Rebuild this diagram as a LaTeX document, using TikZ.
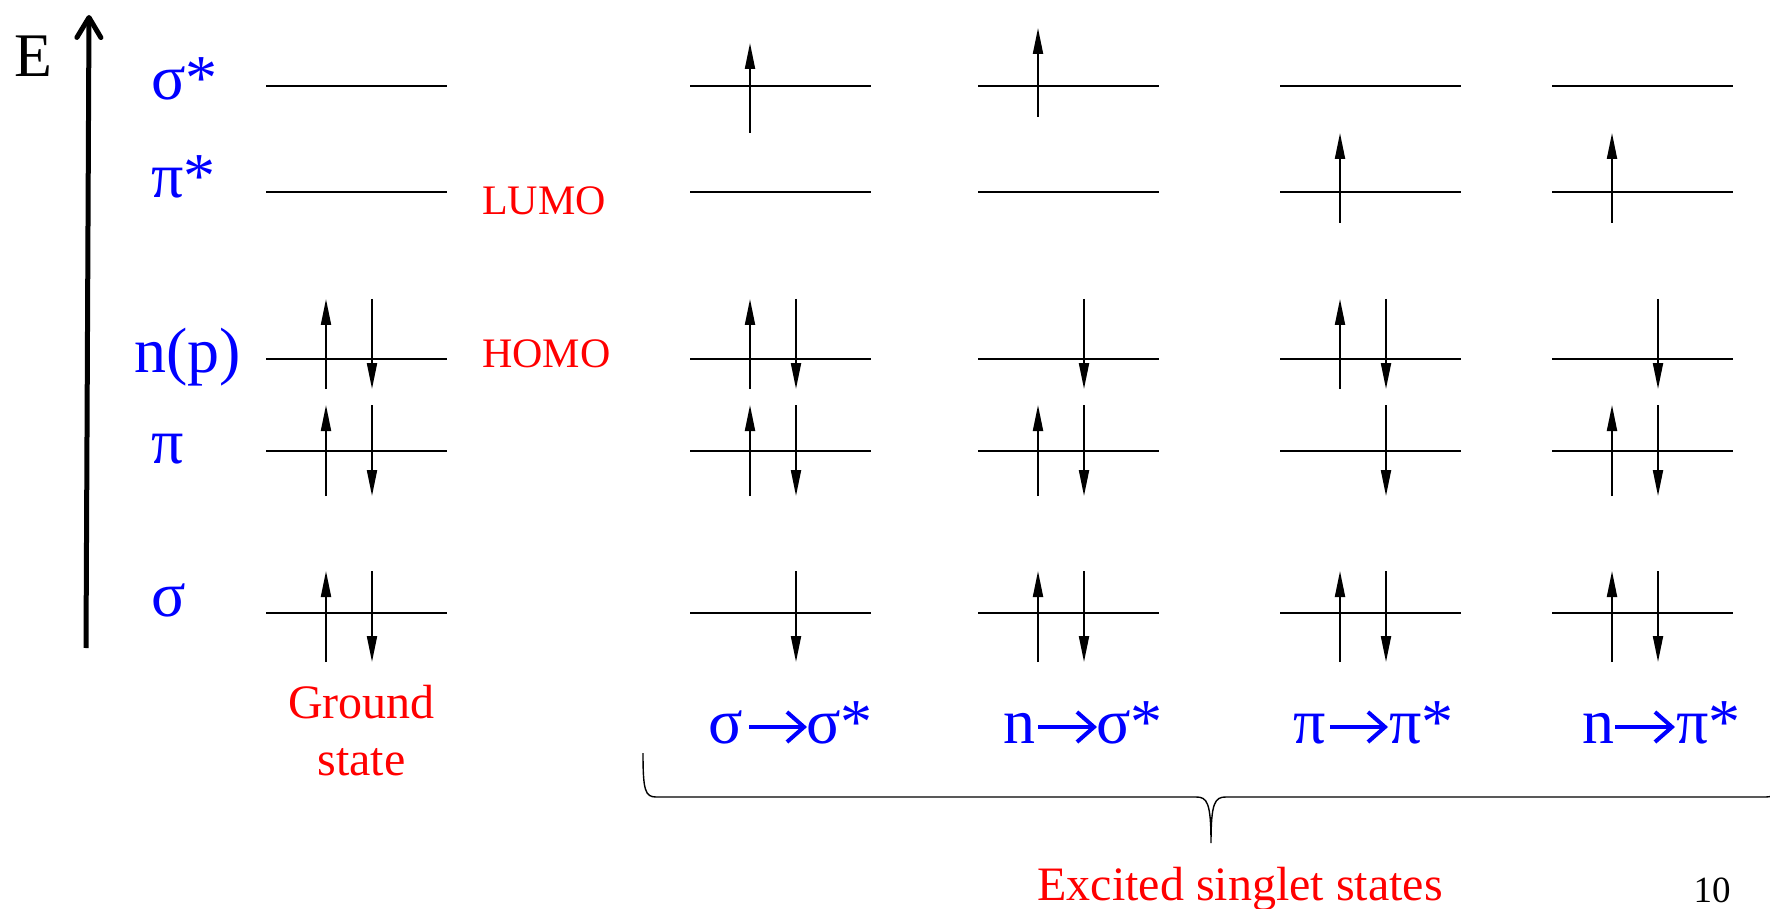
\documentclass[tikz,border=0pt]{standalone}
\usepackage{fontspec}
\setmainfont{Liberation Serif}
\usetikzlibrary{arrows.meta}
\definecolor{myblue}{RGB}{0,0,255}
\definecolor{myred}{RGB}{255,0,0}
\tikzset{
  orbline/.style={line width=2pt},
  spinarrow/.style={line width=2pt,-{Triangle[length=26pt,width=10pt]}},
  bluelbl/.style={text=myblue,font=\fontsize{64}{70}\selectfont,inner sep=0pt},
  redlbl/.style={text=myred,inner sep=0pt},
  bracestyle/.style={line width=1.4pt},
  eaxis/.style={line width=5pt,-{Straight Barb[length=20pt,width=24pt,round]}},
  trarrow/.style={draw=myblue,line width=4pt,-{Straight Barb[length=17pt,width=30pt]}},
}
\newcommand\orbital[2]{\draw[orbline] (#1,#2) -- ++(181,0);}
\newcommand\spinup[3]{\draw[spinarrow] (#1+60,#3) -- (#1+60,#2);}
\newcommand\spindn[3]{\draw[spinarrow] (#1+106,#2) -- (#1+106,#3);}
\begin{document}
\begin{tikzpicture}[x=1pt,y=-1pt]
\useasboundingbox (0,0) rectangle (1770,909);
% energy axis
\coordinate (ebot) at (86,648);
\coordinate (etop) at (89,15);
\draw[eaxis] (ebot) -- (etop);
\node[anchor=base west,inner sep=0pt,font=\fontsize{62}{70}\selectfont] (E) at (14,77) {E};
% orbital labels
\node[bluelbl,anchor=base west] (lss) at (151,100) {σ*};
\node[bluelbl,anchor=base west] (lps) at (151,198) {π*};
\node[bluelbl,anchor=base west] (lnp) at (134,372) {n(p)};
\node[bluelbl,anchor=base west] (lp) at (151,463) {π};
\node[bluelbl,anchor=base west] (ls) at (151,616) {σ};
\node[redlbl,anchor=base west,font=\fontsize{42}{48}\selectfont] (lumo) at (482,215) {LUMO};
\node[redlbl,anchor=base west,font=\fontsize{42}{48}\selectfont] (homo) at (482,367) {HOMO};
% levels
\foreach \cx in {266,690,978,1280,1552}{
  \orbital{\cx}{86.5}
  \orbital{\cx}{192.5}
  \orbital{\cx}{359}
  \orbital{\cx}{451}
  \orbital{\cx}{613}
}
% ground state
\spinup{266}{299}{389}\spindn{266}{299}{389}
\spinup{266}{405}{496}\spindn{266}{405}{496}
\spinup{266}{571}{662}\spindn{266}{571}{662}
% sigma -> sigma*
\spinup{690}{43}{133}
\spinup{690}{299}{389}\spindn{690}{299}{389}
\spinup{690}{405}{496}\spindn{690}{405}{496}
\spindn{690}{571}{662}
% n -> sigma*
\spinup{978}{28}{117}
\spindn{978}{299}{389}
\spinup{978}{405}{496}\spindn{978}{405}{496}
\spinup{978}{571}{662}\spindn{978}{571}{662}
% pi -> pi*
\spinup{1280}{133}{223}
\spinup{1280}{299}{389}\spindn{1280}{299}{389}
\spindn{1280}{405}{496}
\spinup{1280}{571}{662}\spindn{1280}{571}{662}
% n -> pi*
\spinup{1552}{133}{223}
\spindn{1552}{299}{389}
\spinup{1552}{405}{496}\spindn{1552}{405}{496}
\spinup{1552}{571}{662}\spindn{1552}{571}{662}
% state labels
\node[redlbl,anchor=base,font=\fontsize{48}{57}\selectfont] (gs1) at (361.5,718) {Ground};
\node[redlbl,anchor=base,font=\fontsize{48}{57}\selectfont] (gs2) at (361.5,775) {state};
% transitions
\node[bluelbl,anchor=base west] (t1a) at (708,743) {σ};
\node[bluelbl,anchor=base west] (t1b) at (806,743) {σ*};
\coordinate (t1s) at (749,727); \coordinate (t1e) at (807,727);
\draw[trarrow] (t1s) -- (t1e);
\node[bluelbl,anchor=base west] (t2a) at (1003,743) {n};
\node[bluelbl,anchor=base west] (t2b) at (1096,743) {σ*};
\coordinate (t2s) at (1038,727); \coordinate (t2e) at (1097,727);
\draw[trarrow] (t2s) -- (t2e);
\node[bluelbl,anchor=base west] (t3a) at (1293,743) {π};
\node[bluelbl,anchor=base west] (t3b) at (1389,743) {π*};
\coordinate (t3s) at (1330,727); \coordinate (t3e) at (1388,727);
\draw[trarrow] (t3s) -- (t3e);
\node[bluelbl,anchor=base west] (t4a) at (1582,743) {n};
\node[bluelbl,anchor=base west] (t4b) at (1676,743) {π*};
\coordinate (t4s) at (1615,727); \coordinate (t4e) at (1675,727);
\draw[trarrow] (t4s) -- (t4e);
% brace
\draw[bracestyle] (643,753) .. controls (643,790) and (645,797) .. (656,797)
  -- (1196,797) .. controls (1207,797) and (1211,802) .. (1211,843)
  .. controls (1211,802) and (1215,797) .. (1226,797)
  -- (1766,797) .. controls (1777,797) and (1779,790) .. (1779,753);
\node[redlbl,anchor=base,font=\fontsize{48}{57}\selectfont] (exc) at (1240,900) {Excited singlet states};
\node[anchor=base,inner sep=0pt,font=\fontsize{37}{42}\selectfont] (pg) at (1712,902) {10};
\end{tikzpicture}
\end{document}
